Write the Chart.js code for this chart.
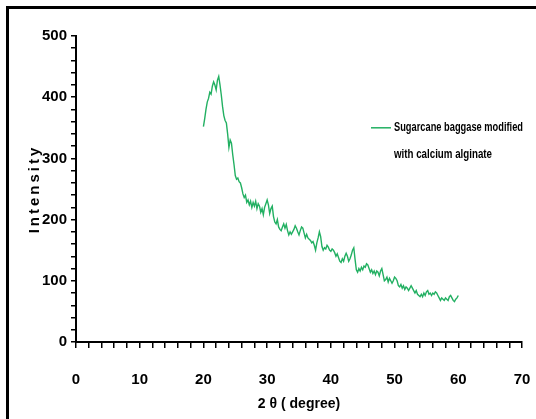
<!DOCTYPE html>
<html>
<head>
<meta charset="utf-8">
<script src="https://cdn.jsdelivr.net/npm/chart.js@4.4.0/dist/chart.umd.min.js"></script>
<style>
  html, body { margin: 0; padding: 0; background: #fff; }
  #wrap { position: relative; width: 536px; height: 419px; }
</style>
</head>
<body>
<div id="wrap"><canvas id="c" width="536" height="419"></canvas></div>
<script>
// ---- data ----
const seriesName = ["Sugarcane baggase modified", "with calcium alginate"];
const xTitle = "2 θ ( degree)";
const yTitle = "Intensity";
const xTickLabels = [0, 10, 20, 30, 40, 50, 60, 70];
const yTickLabels = [0, 100, 200, 300, 400, 500];

const twoTheta = [
  20.0,20.2,20.4,20.6,20.8,21.0,21.2,21.4,21.6,21.8,
  22.0,22.2,22.4,22.6,22.8,23.0,23.2,23.4,23.6,23.8,
  24.0,24.2,24.4,24.6,24.8,25.0,25.2,25.4,25.6,25.8,
  26.0,26.2,26.4,26.6,26.8,27.0,27.2,27.4,27.6,27.8,
  28.0,28.2,28.4,28.6,28.8,29.0,29.2,29.4,29.6,29.8,
  30.0,30.2,30.4,30.6,30.8,31.0,31.2,31.4,31.6,31.8,
  32.0,32.2,32.4,32.6,32.8,33.0,33.2,33.4,33.6,33.8,
  34.0,34.2,34.4,34.6,34.8,35.0,35.2,35.4,35.6,35.8,
  36.0,36.2,36.4,36.6,36.8,37.0,37.2,37.4,37.6,37.8,
  38.0,38.2,38.4,38.6,38.8,39.0,39.2,39.4,39.6,39.8,
  40.0,40.2,40.4,40.6,40.8,41.0,41.2,41.4,41.6,41.8,
  42.0,42.2,42.4,42.6,42.8,43.0,43.2,43.4,43.6,43.8,
  44.0,44.2,44.4,44.6,44.8,45.0,45.2,45.4,45.6,45.8,
  46.0,46.2,46.4,46.6,46.8,47.0,47.2,47.4,47.6,47.8,
  48.0,48.2,48.4,48.6,48.8,49.0,49.2,49.4,49.6,49.8,
  50.0,50.2,50.4,50.6,50.8,51.0,51.2,51.4,51.6,51.8,
  52.0,52.2,52.4,52.6,52.8,53.0,53.2,53.4,53.6,53.8,
  54.0,54.2,54.4,54.6,54.8,55.0,55.2,55.4,55.6,55.8,
  56.0,56.2,56.4,56.6,56.8,57.0,57.2,57.4,57.6,57.8,
  58.0,58.2,58.4,58.6,58.8,59.0,59.2,59.4,59.6,59.8,
  60.0
];

const intensity = [
  352,365,380,392,398,408,405,418,425,420,
  412,428,434,420,404,385,370,362,358,340,
  318,330,325,306,290,272,266,268,262,260,
  252,242,236,240,228,232,224,230,220,228,
  222,230,218,226,222,212,218,208,220,226,
  232,224,210,218,222,205,196,193,200,188,
  184,182,188,193,186,192,182,175,180,176,
  180,184,190,186,180,175,182,188,186,178,
  170,176,170,168,166,162,164,158,150,162,
  170,180,172,156,150,154,152,158,155,150,
  148,152,150,146,140,144,138,132,130,136,
  132,140,145,140,132,136,142,150,154,135,
  118,114,120,116,122,118,124,122,128,126,
  120,114,118,112,116,110,116,114,108,116,
  120,110,100,102,106,98,104,100,96,100,
  106,104,100,92,90,94,88,92,86,90,
  88,84,88,92,88,84,80,84,78,76,
  74,78,74,80,76,82,84,78,80,76,
  80,78,82,80,76,72,68,72,70,68,
  72,70,68,74,76,72,68,66,70,72,
  76
];

const points = twoTheta.map((x, i) => ({ x: x, y: intensity[i] }));

const LINE_COLOR = '#22b062';
const SANS = "'Liberation Sans', Arial, sans-serif";

const framePlugin = {
  id: 'frame',
  afterDraw(chart) {
    const ctx = chart.ctx;
    ctx.save();
    ctx.fillStyle = '#000';
    ctx.fillRect(6, 6, 3, 413);
    ctx.fillRect(6, 6, 530, 3);
    ctx.restore();
  }
};

const yTitlePlugin = {
  id: 'yTitle',
  afterDraw(chart) {
    const ctx = chart.ctx;
    const area = chart.chartArea;
    ctx.save();
    ctx.translate(35, (area.top + area.bottom) / 2);
    ctx.rotate(-Math.PI / 2);
    ctx.fillStyle = '#000';
    ctx.font = "bold 15px " + SANS;
    if ('letterSpacing' in ctx) ctx.letterSpacing = '3px';
    ctx.textAlign = 'center';
    ctx.textBaseline = 'middle';
    ctx.fillText(yTitle, 0, 0);
    ctx.restore();
  }
};

const legendPlugin = {
  id: 'sideLegend',
  afterDraw(chart) {
    const ctx = chart.ctx;
    const xs = chart.scales.x, ys = chart.scales.y;
    const x0 = xs.getPixelForValue(46.3);
    const y0 = ys.getPixelForValue(350);
    ctx.save();
    ctx.strokeStyle = LINE_COLOR;
    ctx.lineWidth = 1.5;
    ctx.beginPath();
    ctx.moveTo(x0, y0);
    ctx.lineTo(x0 + 20, y0);
    ctx.stroke();
    ctx.fillStyle = '#000';
    ctx.font = "bold 13px " + SANS;
    ctx.textBaseline = 'middle';
    ctx.textAlign = 'left';
    ctx.fillText(seriesName[0], x0 + 23, y0, 129);
    ctx.fillText(seriesName[1], x0 + 23, y0 + 27, 98);
    ctx.restore();
  }
};

new Chart(document.getElementById('c'), {
  type: 'scatter',
  data: {
    datasets: [{
      label: seriesName.join(' '),
      data: points,
      showLine: true,
      borderColor: LINE_COLOR,
      borderWidth: 1.4,
      pointRadius: 0,
      tension: 0,
      fill: false
    }]
  },
  options: {
    responsive: false,
    animation: false,
    devicePixelRatio: 1,
    layout: { padding: { left: 0, right: 14, top: 36, bottom: 0 } },
    plugins: { legend: { display: false }, tooltip: { enabled: false } },
    scales: {
      x: {
        type: 'linear',
        min: 0, max: 70,
        afterFit(scale) { scale.height = 77; scale.paddingLeft = 0; scale.paddingRight = 0; },
        border: { display: true, color: '#000', width: 2 },
        grid: { drawOnChartArea: false, drawTicks: true, tickLength: 6, color: '#000', lineWidth: 1.5 },
        ticks: {
          stepSize: 2,
          autoSkip: false,
          maxRotation: 0,
          padding: 23,
          color: '#000',
          font: { family: SANS, size: 15, weight: 'bold' },
          callback: (v) => xTickLabels.includes(v) ? String(v) : ''
        },
        title: {
          display: true,
          text: xTitle,
          color: '#000',
          font: { family: SANS, size: 14, weight: 'bold' },
          padding: { top: 0, bottom: 6 }
        }
      },
      y: {
        type: 'linear',
        min: 0, max: 500,
        afterFit(scale) { scale.width = 76; scale.paddingTop = 0; scale.paddingBottom = 0; },
        border: { display: true, color: '#000', width: 2 },
        grid: { drawOnChartArea: false, drawTicks: true, tickLength: 5, color: '#000', lineWidth: 1.5 },
        ticks: {
          stepSize: 20,
          autoSkip: false,
          padding: 4,
          color: '#000',
          font: { family: SANS, size: 15, weight: 'bold' },
          callback: (v) => yTickLabels.includes(v) ? String(v) : ''
        },
        title: { display: false }
      }
    }
  },
  plugins: [framePlugin, yTitlePlugin, legendPlugin]
});
</script>
</body>
</html>
